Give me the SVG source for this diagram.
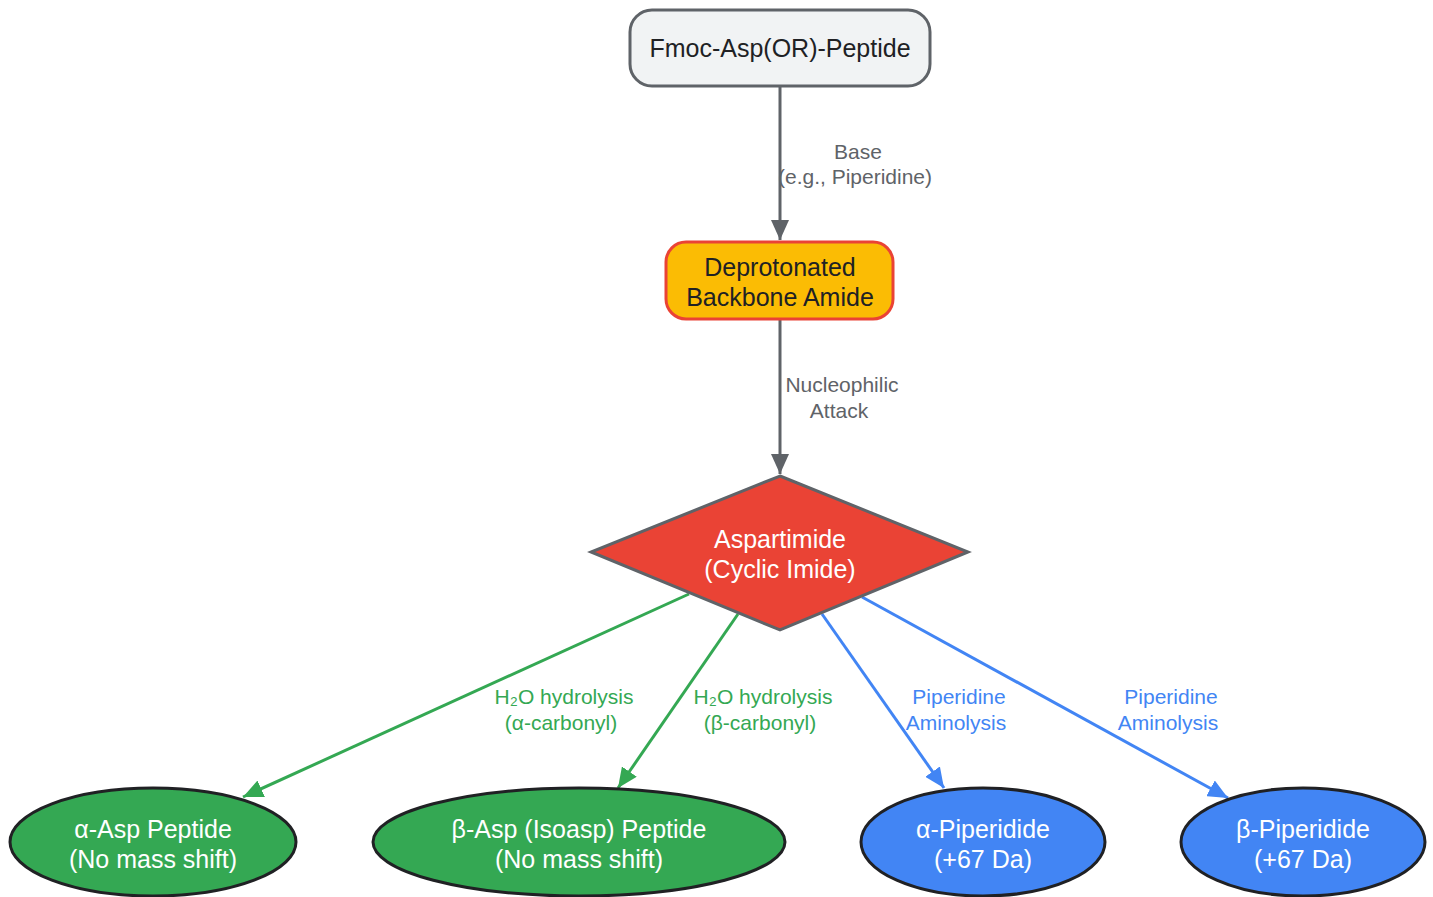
<svg xmlns="http://www.w3.org/2000/svg" width="1433" height="897" viewBox="0 0 1433 897">
<style>
.nt{font-family:"Liberation Sans",Arial,sans-serif;font-size:25px;text-anchor:middle}
.lt{font-family:"Liberation Sans",Arial,sans-serif;font-size:21px;text-anchor:middle}
.e{fill:none;stroke-width:3}
</style>
<defs>
<marker id="ag" viewBox="0 0 20 18" refX="20" refY="9" markerWidth="20" markerHeight="18" markerUnits="userSpaceOnUse" orient="auto"><path d="M0,0 L20,9 L0,18 z" fill="#5f6368"/></marker>
<marker id="agr" viewBox="0 0 20 18" refX="20" refY="9" markerWidth="20" markerHeight="18" markerUnits="userSpaceOnUse" orient="auto"><path d="M0,0 L20,9 L0,18 z" fill="#34a853"/></marker>
<marker id="ab" viewBox="0 0 20 18" refX="20" refY="9" markerWidth="20" markerHeight="18" markerUnits="userSpaceOnUse" orient="auto"><path d="M0,0 L20,9 L0,18 z" fill="#4285f4"/></marker>
</defs>
<rect width="1433" height="897" fill="#ffffff"/>
<g id="connectors">
<line class="e" x1="780" y1="86" x2="780" y2="240" stroke="#5f6368" marker-end="url(#ag)"/>
<text class="lt" fill="#5f6368"><tspan x="858" y="159">Base</tspan><tspan x="855" y="184">(e.g., Piperidine)</tspan></text>
<line class="e" x1="780" y1="319" x2="780" y2="474" stroke="#5f6368" marker-end="url(#ag)"/>
<text class="lt" fill="#5f6368"><tspan x="842" y="392">Nucleophilic</tspan><tspan x="839" y="418">Attack</tspan></text>
<line class="e" x1="689" y1="594" x2="243" y2="797" stroke="#34a853" marker-end="url(#agr)"/>
<text class="lt" fill="#34a853"><tspan x="564" y="704">H₂O hydrolysis</tspan><tspan x="561" y="730">(α-carbonyl)</tspan></text>
<line class="e" x1="738" y1="614" x2="618" y2="788" stroke="#34a853" marker-end="url(#agr)"/>
<text class="lt" fill="#34a853"><tspan x="763" y="704">H₂O hydrolysis</tspan><tspan x="760" y="730">(β-carbonyl)</tspan></text>
<line class="e" x1="822" y1="614" x2="944" y2="788" stroke="#4285f4" marker-end="url(#ab)"/>
<text class="lt" fill="#4285f4"><tspan x="959" y="704">Piperidine</tspan><tspan x="956" y="730">Aminolysis</tspan></text>
<line class="e" x1="862" y1="597" x2="1228" y2="798" stroke="#4285f4" marker-end="url(#ab)"/>
<text class="lt" fill="#4285f4"><tspan x="1171" y="704">Piperidine</tspan><tspan x="1168" y="730">Aminolysis</tspan></text>
</g>
<g id="fmoc">
<rect x="630" y="10" width="300" height="76" rx="22" fill="#f1f3f4" stroke="#5f6368" stroke-width="3"/>
<text class="nt" fill="#202124" x="780" y="57">Fmoc-Asp(OR)-Peptide</text>
</g>
<g id="deprot">
<rect x="666" y="242" width="227" height="77" rx="20" fill="#fbbc04" stroke="#ea4335" stroke-width="3"/>
<text class="nt" fill="#202124"><tspan x="780" y="276">Deprotonated</tspan><tspan x="780" y="306">Backbone Amide</tspan></text>
</g>
<g id="aspartimide">
<polygon points="780,476 968,552 780,630 591,552" fill="#ea4335" stroke="#5f6368" stroke-width="3"/>
<text class="nt" fill="#ffffff"><tspan x="780" y="548">Aspartimide</tspan><tspan x="780" y="578">(Cyclic Imide)</tspan></text>
</g>
<g id="alphaAsp">
<ellipse cx="153" cy="842" rx="143" ry="54" fill="#34a853" stroke="#202124" stroke-width="3"/>
<text class="nt" fill="#ffffff"><tspan x="153" y="838">α-Asp Peptide</tspan><tspan x="153" y="868">(No mass shift)</tspan></text>
</g>
<g id="betaAsp">
<ellipse cx="579" cy="842" rx="206" ry="54" fill="#34a853" stroke="#202124" stroke-width="3"/>
<text class="nt" fill="#ffffff"><tspan x="579" y="838">β-Asp (Isoasp) Peptide</tspan><tspan x="579" y="868">(No mass shift)</tspan></text>
</g>
<g id="alphaPip">
<ellipse cx="983" cy="842" rx="122" ry="54" fill="#4285f4" stroke="#202124" stroke-width="3"/>
<text class="nt" fill="#ffffff"><tspan x="983" y="838">α-Piperidide</tspan><tspan x="983" y="868">(+67 Da)</tspan></text>
</g>
<g id="betaPip">
<ellipse cx="1303" cy="842" rx="122" ry="54" fill="#4285f4" stroke="#202124" stroke-width="3"/>
<text class="nt" fill="#ffffff"><tspan x="1303" y="838">β-Piperidide</tspan><tspan x="1303" y="868">(+67 Da)</tspan></text>
</g>
</svg>
